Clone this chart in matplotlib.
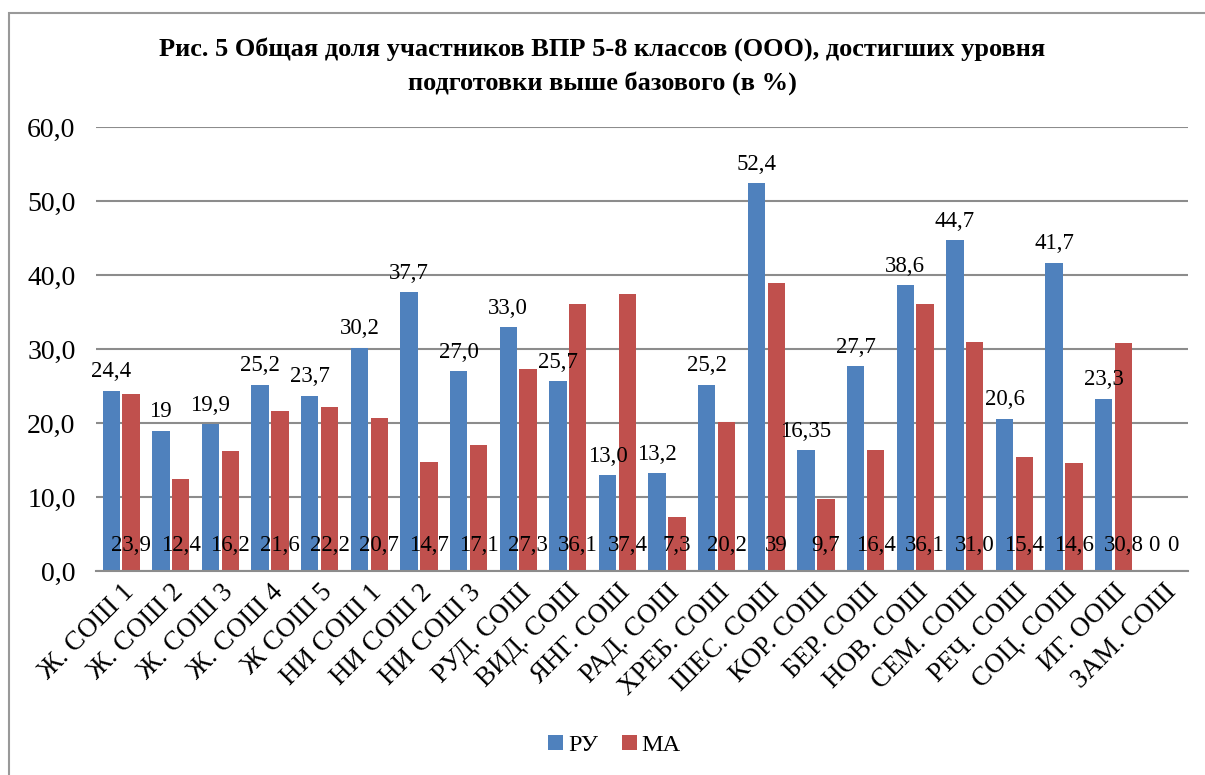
import numpy as np
import matplotlib.pyplot as plt
from matplotlib.patches import Rectangle

plt.rcParams['font.family'] = ['Liberation Serif', 'DejaVu Serif']

schools = ['Ж. СОШ 1', 'Ж. СОШ 2', 'Ж. СОШ 3', 'Ж. СОШ 4', 'Ж СОШ 5',
           'НИ СОШ 1', 'НИ СОШ 2', 'НИ СОШ 3', 'РУД. СОШ', 'ВИД. СОШ',
           'ЯНГ. СОШ', 'РАД. СОШ', 'ХРЕБ. СОШ', 'ШЕС. СОШ', 'КОР. СОШ',
           'БЕР. СОШ', 'НОВ. СОШ', 'СЕМ. СОШ', 'РЕЧ. СОШ', 'СОЦ. СОШ',
           'ИГ. ООШ', 'ЗАМ. СОШ']
ru = [24.4, 19, 19.9, 25.2, 23.7, 30.2, 37.7, 27.0, 33.0, 25.7, 13.0,
      13.2, 25.2, 52.4, 16.35, 27.7, 38.6, 44.7, 20.6, 41.7, 23.3, 0]
ru_lbl = ['24,4', '19', '19,9', '25,2', '23,7', '30,2', '37,7', '27,0',
          '33,0', '25,7', '13,0', '13,2', '25,2', '52,4', '16,35', '27,7',
          '38,6', '44,7', '20,6', '41,7', '23,3', '0']
ma = [23.9, 12.4, 16.2, 21.6, 22.2, 20.7, 14.7, 17.1, 27.3, 36.1, 37.4,
      7.3, 20.2, 39, 9.7, 16.4, 36.1, 31.0, 15.4, 14.6, 30.8, 0]
ma_lbl = ['23,9', '12,4', '16,2', '21,6', '22,2', '20,7', '14,7', '17,1',
          '27,3', '36,1', '37,4', '7,3', '20,2', '39', '9,7', '16,4',
          '36,1', '31,0', '15,4', '14,6', '30,8', '0']
yticks = [0, 10, 20, 30, 40, 50, 60]
ytick_lbl = ['0,0', '10,0', '20,0', '30,0', '40,0', '50,0', '60,0']

blue = '#4F81BD'
red = '#C0504D'
grid = '#8C8C8C'

fig = plt.figure(figsize=(12.05, 7.75), dpi=100)
ax = fig.add_axes([0.080, 0.263, 0.906, 0.573])

x = np.arange(len(schools))
w = 0.35
ax.bar(x - 0.2, ru, w, color=blue, label='РУ', zorder=2)
ax.bar(x + 0.2, ma, w, color=red, label='МА', zorder=2)

for i in range(len(schools)):
    if ru[i] > 0:
        ax.annotate(ru_lbl[i], (x[i] - 0.2, ru[i]), xytext=(0, 6),
                    textcoords='offset points', ha='center', va='bottom',
                    fontsize=16.5, zorder=3)
    else:
        ax.text(x[i] - 0.2, 3.5, ru_lbl[i], ha='center', va='center',
                fontsize=16.5, zorder=3)
    ax.text(x[i] + 0.2, 3.5, ma_lbl[i], ha='center', va='center',
            fontsize=16.5, zorder=3)

ax.set_xlim(-0.5, len(schools) - 0.5)
ax.set_ylim(0, 60)
ax.set_yticks(yticks)
ax.set_yticklabels(ytick_lbl, fontsize=20)
ax.set_xticks(x)
ax.set_xticklabels(schools, rotation=45, ha='right', rotation_mode='anchor',
                   fontsize=19.5)
ax.tick_params(axis='both', length=0)
ax.tick_params(axis='y', pad=15)
ax.tick_params(axis='x', pad=6)
ax.yaxis.grid(True, color=grid, linewidth=1.5, zorder=0)
ax.set_axisbelow(True)
for s in ['top', 'right', 'left']:
    ax.spines[s].set_visible(False)
ax.spines['bottom'].set_color(grid)
ax.spines['bottom'].set_linewidth(1.5)

fig.text(0.5, 0.937, 'Рис. 5 Общая доля участников ВПР 5-8 классов (ООО), достигших уровня',
         ha='center', va='center', fontsize=19, fontweight='bold')
fig.text(0.5, 0.893, 'подготовки выше базового (в %)',
         ha='center', va='center', fontsize=19, fontweight='bold')

fig.legend(loc='center', bbox_to_anchor=(0.51, 0.038), ncol=2, frameon=False,
           fontsize=17.5, handlelength=0.6, handleheight=0.6, handletextpad=0.2,
           columnspacing=1.0)

fig.patches.append(Rectangle((9 / 1205, -0.1), 1.2, 1 - 13 / 775 + 0.1,
                             transform=fig.transFigure, fill=False,
                             edgecolor='#999999', linewidth=1.5))

fig.savefig('out.png', dpi=100)
